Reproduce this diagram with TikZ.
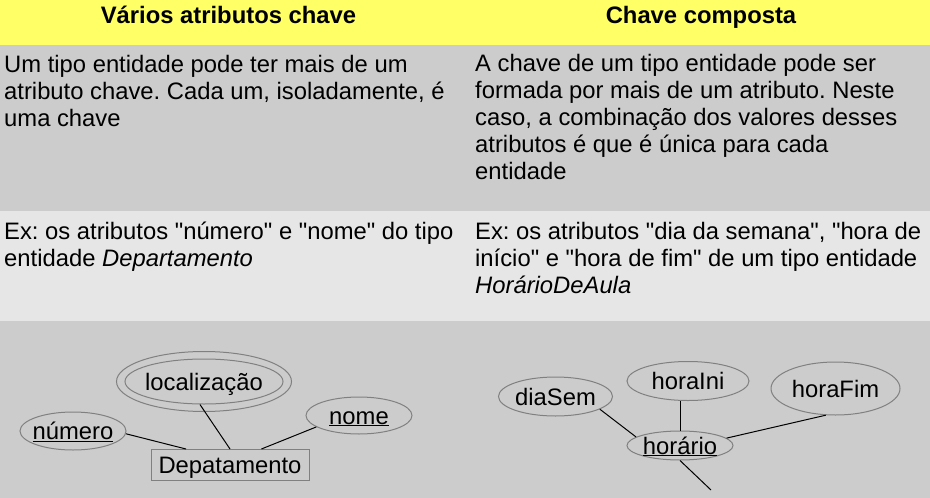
\documentclass[tikz,border=0pt]{standalone}
\usepackage{fontspec}
\setmainfont{Liberation Sans}[Ligatures=TeXOff]
\frenchspacing
\usetikzlibrary{shapes.geometric,positioning}
\definecolor{headcolor}{RGB}{255,255,102}
\definecolor{rowdark}{RGB}{204,204,204}
\definecolor{rowlight}{RGB}{230,230,230}
\definecolor{edgegray}{RGB}{128,128,128}

\begin{document}
\begin{tikzpicture}[
    x=1pt, y=-1pt,
    txt/.style={anchor=base west, align=left, inner sep=0pt, font=\fontsize{23.8}{27}\selectfont},
    head/.style={anchor=base, inner sep=0pt, font=\fontsize{23.8}{27}\selectfont\bfseries},
    attr/.style={ellipse, draw=edgegray, line width=1pt, inner sep=-20pt, text height=17pt, text depth=0pt, font=\fontsize{23.8}{27}\selectfont},
    entity/.style={rectangle, draw=edgegray, line width=1pt, minimum width=158pt, minimum height=31pt, inner sep=0pt, text height=17pt, text depth=0pt, font=\fontsize{23.8}{27}\selectfont},
    link/.style={line width=1pt}
]
\useasboundingbox (0,0) rectangle (930,498);
% table bands
\fill[headcolor] (0,0) rectangle (930,45);
\fill[rowdark] (0,45) rectangle (930,211);
\fill[rowlight] (0,211) rectangle (930,321);
\fill[rowdark] (0,321) rectangle (930,498);

\node[head] (hleft) at (228.5,23.5) {Vários atributos chave};
\node[head] (hright) at (701,23.5) {Chave composta};

% base anchor sits on the last line
\node[txt] (defleft) at (4,126) {Um tipo entidade pode ter mais de um\\atributo chave. Cada um, isoladamente, é\\uma chave};
\node[txt] (defright) at (475,179) {A chave de um tipo entidade pode ser\\formada por mais de um atributo. Neste\\caso, a combinação dos valores desses\\atributos é que é única para cada\\entidade};

\node[txt] (exleft) at (4,266) {Ex: os atributos "número" e "nome" do tipo\\entidade \textit{Departamento}};
\node[txt] (exright) at (475,293) {Ex: os atributos "dia da semana", "hora de\\início" e "hora de fim" de um tipo entidade\\\textit{HorárioDeAula}};

% several keys
\node[entity] (dept) at (230,465) {Depatamento};
\node[attr, minimum width=106pt, minimum height=38pt] (num) at (73,431) {\underline{número}};
\node[attr, minimum width=158pt, minimum height=45pt] (loc) at (204,381.5) {localização};
\node[attr, minimum width=175pt, minimum height=60pt] (locouter) at (loc) {};
\node[attr, minimum width=106pt, minimum height=37pt] (nome) at (359,415.5) {\underline{nome}};

\draw[link] (num.-3) -- (dept.160);
\draw[link] (loc.-100) -- (dept.north);
\draw[link] (nome.195) -- (dept.27);

% composite key
\node[attr, minimum width=114pt, minimum height=39pt] (dia) at (555.5,396.5) {diaSem};
\node[attr, minimum width=122pt, minimum height=39pt] (ini) at (688,381) {horaIni};
\node[attr, minimum width=129pt, minimum height=53pt] (fim) at (835.5,388.5) {horaFim};
\node[attr, minimum width=106pt, minimum height=29pt] (hor) at (680,445.5) {\underline{horário}};
\coordinate (horend) at (711,490);

\draw[link] (dia.-16) -- (hor.169);
\draw[link] (hor.north) -- (hor.north |- ini.south);
\draw[link] (fim.-110) -- (hor.9);
\draw[link] (hor.south) -- (horend);
\end{tikzpicture}
\end{document}
